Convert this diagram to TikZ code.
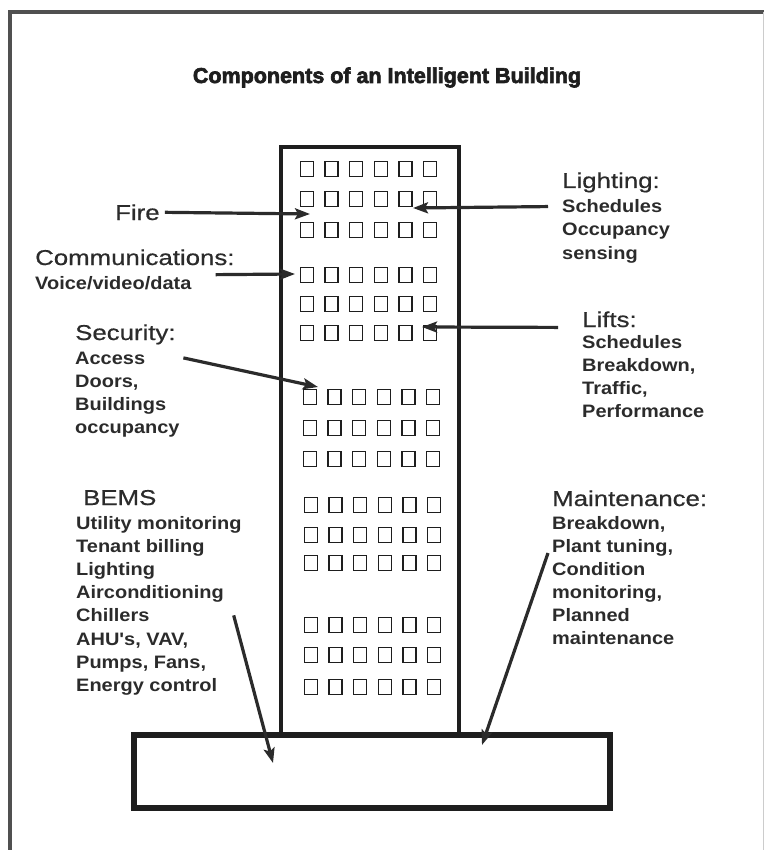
\documentclass[tikz,border=0pt]{standalone}
\usepackage{fontspec}
\setmainfont{Liberation Sans}
\newfontfamily\headfont[FakeStretch=1.2,FakeBold=0.6]{Liberation Sans}
\newfontfamily\bodyfont[FakeStretch=1.11]{Liberation Sans}
\newfontfamily\titlefont[FakeBold=3]{Liberation Sans}
\usetikzlibrary{arrows.meta}
\definecolor{inkgray}{HTML}{2B2B2B}
\definecolor{wallgray}{HTML}{1E1E1E}
\definecolor{framegray}{HTML}{505050}
\begin{document}
\begin{tikzpicture}[x=1pt, y=-1pt,
  head/.style={anchor=base west,inner sep=0pt,text=inkgray,font=\headfont\fontsize{21.5}{21.5}\selectfont},
  body/.style={anchor=base west,inner sep=0pt,text=inkgray,font=\bodyfont\bfseries\fontsize{18}{18}\selectfont},
  pointer/.style={-{Stealth[length=15pt,width=11pt,inset=3pt]},line width=3.2pt,draw=inkgray},
  wall/.style={draw=wallgray,line width=4.5pt,outer sep=0pt,inner sep=0pt},
  window/.style={draw=wallgray,line width=1.5pt}]
\useasboundingbox (0,0) rectangle (764,850);
% frame
\draw[framegray,line width=3.5pt] (10,852) -- (10,12) -- (764,12);
\draw[black!20,line width=1pt] (763,12) -- (763,852);
\node[anchor=base,inner sep=0pt,text=wallgray,font=\titlefont\bfseries\fontsize{21.5}{21.5}\selectfont] (title) at (387,83) {Components of an Intelligent Building};
% building and base
\node[wall,minimum width=178pt,minimum height=588pt,anchor=north west] (tower) at (281,147) {};
\node[wall,line width=5.5pt,minimum width=476pt,minimum height=73pt,anchor=north west] (plinth) at (134,735) {};
\foreach \y/\dx in {169/0,199/0,230/0,275/0,304/0,333/0,397/3,428/3,459/3,505/4,535/4,563/4,625/4,655/4,687/4}
  \foreach \c in {0,...,5}
    \draw[window] ({300.5+\dx+24.6*\c},\y-7.5) rectangle ++(13,15);
% labels, left
\node[head] (fire) at (115,220) {Fire};
\node[head] (comms) at (35,265) {Communications:};
\node[body] (commsa) at (35,289) {Voice/video/data};
\node[head] (secur) at (75,340) {Security:};
\foreach \t [count=\i from 0] in {Access,{Doors,},Buildings,occupancy}
  \node[body] (secur\i) at (75,{364+23*\i}) {\t};
\node[head] (bems) at (83,505) {BEMS};
\foreach \t [count=\i from 0] in {Utility monitoring,Tenant billing,Lighting,Airconditioning,Chillers,{AHU's, VAV,},{Pumps, Fans,},Energy control}
  \node[body] (bems\i) at (76,{529+23.2*\i}) {\t};
% labels, right
\node[head] (light) at (562,188) {Lighting:};
\foreach \t [count=\i from 0] in {Schedules,Occupancy,sensing}
  \node[body] (light\i) at (562,{213+23*\i}) {\t};
\node[head] (lifts) at (582,327) {Lifts:};
\foreach \t [count=\i from 0] in {Schedules,{Breakdown,},{Traffic,},Performance}
  \node[body] (lifts\i) at (582,{348+23*\i}) {\t};
\node[head] (maint) at (552,506) {Maintenance:};
\foreach \t [count=\i from 0] in {{Breakdown,},{Plant tuning,},Condition,{monitoring,},Planned,maintenance}
  \node[body] (maint\i) at (552,{529+23*\i}) {\t};
% arrow tips
\coordinate (firetip) at (310,214);
\coordinate (commstip) at (295,274);
\coordinate (securtip) at (318,387);
\coordinate (lighttip) at (413,208);
\coordinate (liftstip) at (422,327);
\coordinate (bemstip) at (273,763);
\coordinate (mainttip) at (482,745);
\draw[pointer] ([xshift=5pt]fire.east) -- (firetip);
\draw[pointer] ([xshift=24pt,yshift=8pt]commsa.east) -- (commstip);
\draw[pointer] ([xshift=38pt]secur0.east) -- (securtip);
\draw[pointer] ([xshift=-14pt]light0.west) -- (lighttip);
\draw[pointer] ([xshift=-24pt]lifts.south west) -- (liftstip);
\draw[pointer] ([xshift=84pt]bems4.east) -- (bemstip);
\draw[pointer] ([xshift=-4pt,yshift=3pt]maint1.south west) -- (mainttip);
\end{tikzpicture}
\end{document}
